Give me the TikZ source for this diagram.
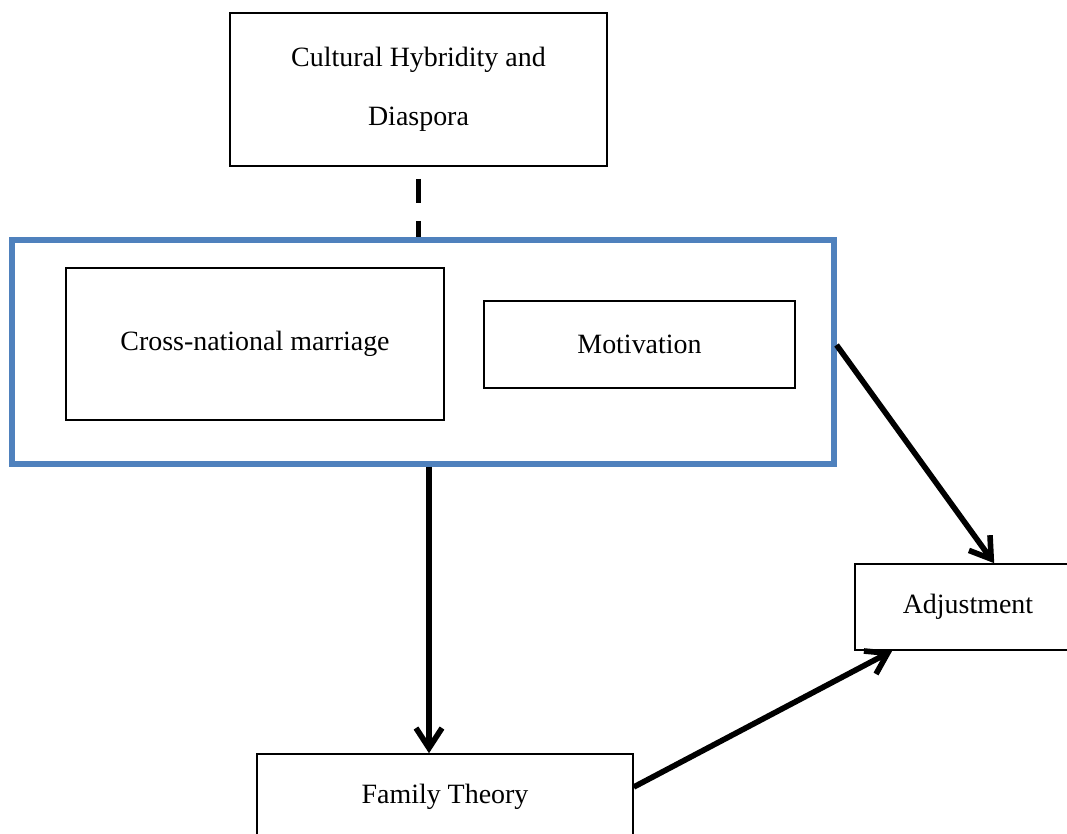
\documentclass[tikz,border=0pt]{standalone}
\usepackage{fontspec}
\setmainfont{Liberation Serif}
\usetikzlibrary{arrows.meta,calc}
\definecolor{frameblue}{RGB}{79,129,189}
\begin{document}
\begin{tikzpicture}[every node/.style={font=\fontsize{7.95}{16.8}\selectfont},
  box/.style={draw,line width=0.45pt,inner sep=0pt,align=center},
  arr/.style={-{Straight Barb[length=2mm,width=2.6mm]},line width=1.6pt}]
  \useasboundingbox (0,0) rectangle (10.67,8.34);
  % top box
  \node[box,minimum width=3.77cm,minimum height=1.53cm] (hyb) at (4.185,7.445) {Cultural Hybridity and\\Diaspora};
  % blue frame round the two inner boxes
  \node[draw=frameblue,line width=1.45pt,minimum width=8.22cm,minimum height=2.24cm,inner sep=0pt] (frame) at (4.23,4.82) {};
  \node[box,minimum width=3.78cm,minimum height=1.52cm] (marriage) at (2.55,4.90) {Cross-national marriage};
  \node[box,minimum width=3.11cm,minimum height=0.87cm] (motiv) at (6.395,4.895) {Motivation};
  % lower boxes
  \node[box,minimum width=3.76cm,minimum height=0.85cm] (family) at (4.45,0.375) {Family Theory};
  \node[box,minimum width=2.26cm,minimum height=0.86cm] (adj) at (9.68,2.27) {Adjustment};
  % connectors
  \draw[line width=1.6pt,dash pattern=on 0.24cm off 0.18cm] ([yshift=-0.12cm]hyb.south) -- (hyb.south |- frame.north);
  \coordinate (downx) at (4.29,0);
  \draw[arr] (frame.south -| downx) -- (family.north -| downx);
  \draw[arr] ([yshift=0.07cm]frame.east) -- ($(adj.north west)+(1.40,0)$);
  \draw[arr] ([yshift=0.095cm]family.east) -- ($(adj.south west)+(0.38,0)$);
\end{tikzpicture}
\end{document}
